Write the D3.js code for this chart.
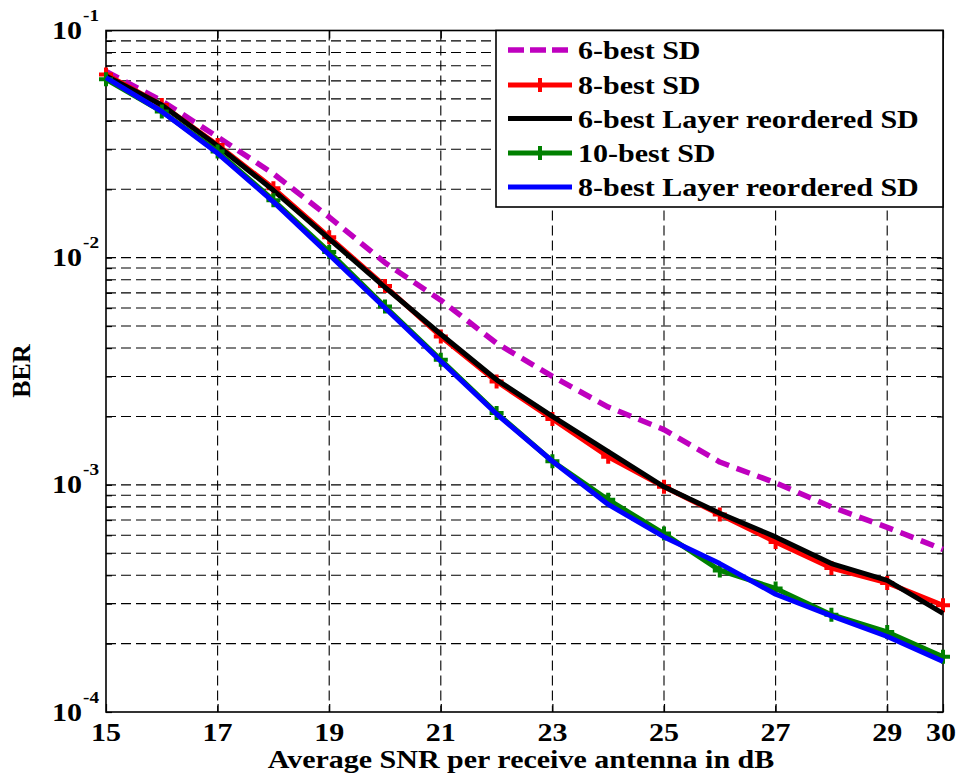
<!DOCTYPE html>
<html>
<head>
<meta charset="utf-8">
<script src="https://cdn.jsdelivr.net/npm/d3@7"></script>
<style>
  body { margin: 0; background: #fff; }
  svg { display: block; }
  text { font-family: "Liberation Serif", "Times New Roman", serif; font-weight: bold; fill: #000; }
</style>
</head>
<body>
<div class="canvas"></div>
<script>
// data
const snr = [15, 16, 17, 18, 19, 20, 21, 22, 23, 24, 25, 26, 27, 28, 29, 30];
const best6 = [0.066, 0.049, 0.034, 0.0234, 0.0151, 0.0095, 0.0065, 0.0042, 0.0030, 0.0022, 0.00175, 0.00126, 0.00102, 0.0008, 0.00065, 0.00052];
const best8 = [0.064, 0.047, 0.0313, 0.0202, 0.0123, 0.0075, 0.0045, 0.00285, 0.00195, 0.00133, 0.00098, 0.00074, 0.00056, 0.00043, 0.00037, 0.000295];
const best6Layer = [0.063, 0.047, 0.031, 0.0198, 0.0121, 0.0074, 0.0046, 0.0029, 0.0020, 0.0014, 0.00098, 0.00075, 0.00059, 0.00045, 0.00038, 0.000272];
const best10 = [0.061, 0.044, 0.0293, 0.0179, 0.0106, 0.0061, 0.00355, 0.00207, 0.00127, 0.00086, 0.00061, 0.00042, 0.00035, 0.000268, 0.000225, 0.000175];
const best8Layer = [0.062, 0.044, 0.0288, 0.0176, 0.0103, 0.0060, 0.0035, 0.00205, 0.00127, 0.00082, 0.00059, 0.00045, 0.00033, 0.000265, 0.000215, 0.000167];

const seriesNames = ['6-best SD', '8-best SD', '6-best Layer reordered SD', '10-best SD', '8-best Layer reordered SD'];
const seriesColors = ['#bf00bf', '#ff0000', '#000000', '#008000', '#0000ff'];
const xTicks = [15, 17, 19, 21, 23, 25, 27, 29, 30];
const yDecades = [-4, -3, -2, -1];

const series = [
    { name: seriesNames[0], values: best6, color: seriesColors[0], dash: '14,8', marker: false },
    { name: seriesNames[1], values: best8, color: seriesColors[1], dash: null, marker: true },
    { name: seriesNames[2], values: best6Layer, color: seriesColors[2], dash: null, marker: false },
    { name: seriesNames[3], values: best10, color: seriesColors[3], dash: null, marker: true },
    { name: seriesNames[4], values: best8Layer, color: seriesColors[4], dash: null, marker: false }
];

const W = 961, H = 777;
const plot = { left: 106, top: 30.5, right: 943, bottom: 712 };
const sx = 1.2; // horizontal stretch of the glyphs in the source image

const svg = d3.select('.canvas').append('svg')
    .attr('width', W)
    .attr('height', H);

svg.append('rect').attr('width', W).attr('height', H).attr('fill', '#fff');

const x = d3.scaleLinear().domain([15, 30]).range([plot.left, plot.right]);
const y = d3.scaleLog().domain([1e-4, 1e-1]).range([plot.bottom, plot.top]);

// grid
const grid = svg.append('g')
    .attr('stroke', '#000')
    .attr('stroke-width', 1.1)
    .attr('stroke-dasharray', '10,5');

grid.selectAll('.vg').data(xTicks.slice(1, -1)).enter().append('line')
    .attr('x1', d => x(d)).attr('x2', d => x(d))
    .attr('y1', plot.top).attr('y2', plot.bottom);

grid.selectAll('.hg').data(y.ticks().filter(d => d > 1.01e-4 && d < 0.099)).enter().append('line')
    .attr('x1', plot.left).attr('x2', plot.right)
    .attr('y1', d => y(d)).attr('y2', d => y(d));

// axes with inward ticks
const axisStyle = g => {
    g.select('.domain').remove();
    g.selectAll('.tick line').attr('stroke', '#000').attr('stroke-width', 1.2);
    g.selectAll('.tick text').remove();
};
svg.append('g').attr('transform', `translate(0,${plot.bottom})`)
    .call(d3.axisBottom(x).tickValues(xTicks).tickSize(-8)).call(axisStyle);
svg.append('g').attr('transform', `translate(0,${plot.top})`)
    .call(d3.axisTop(x).tickValues(xTicks).tickSize(-8)).call(axisStyle);
svg.append('g').attr('transform', `translate(${plot.left},0)`)
    .call(d3.axisLeft(y).tickValues(y.ticks()).tickSize(-6)).call(axisStyle);
svg.append('g').attr('transform', `translate(${plot.right},0)`)
    .call(d3.axisRight(y).tickValues(y.ticks()).tickSize(-6)).call(axisStyle);

svg.append('rect')
    .attr('x', plot.left).attr('y', plot.top)
    .attr('width', plot.right - plot.left).attr('height', plot.bottom - plot.top)
    .attr('fill', 'none').attr('stroke', '#000').attr('stroke-width', 1.6);

// stretched text helper
const label = (px, py, str, size, anchor) => svg.append('text')
    .attr('transform', `translate(${px},${py}) scale(${sx},1)`)
    .attr('font-size', size)
    .attr('text-anchor', anchor || 'start')
    .text(str);

// tick labels
xTicks.forEach(t => label(t === 30 ? x(t) - 2 : x(t), 741, t, 25, 'middle'));
yDecades.forEach(e => {
    const py = y(Math.pow(10, e));
    label(82, py + 8.5, '10', 25, 'end');
    label(83, py - 9.5, '-' + Math.abs(e), 16, 'start');
});

// axis titles
label(521, 768, 'Average SNR per receive antenna in dB', 25, 'middle');
svg.append('text')
    .attr('transform', 'translate(30,371) rotate(-90)')
    .attr('font-size', 26)
    .attr('text-anchor', 'middle')
    .text('BER');

// curves
const line = d3.line()
    .x((d, i) => x(snr[i]))
    .y(d => y(d));

const plus = (g, cx, cy, color) => {
    g.append('path')
        .attr('d', `M${cx - 7},${cy}H${cx + 7}M${cx},${cy - 7}V${cy + 7}`)
        .attr('stroke', color).attr('stroke-width', 4).attr('fill', 'none');
};

series.forEach(s => {
    const g = svg.append('g');
    g.append('path')
        .attr('d', line(s.values))
        .attr('fill', 'none')
        .attr('stroke', s.color)
        .attr('stroke-width', s.dash ? 5.5 : 5)
        .attr('stroke-linejoin', 'round')
        .attr('stroke-dasharray', s.dash);
    if (s.marker) s.values.forEach((v, i) => plus(g, x(snr[i]), y(v), s.color));
});

// legend
const lg = svg.append('g');
lg.append('rect')
    .attr('x', 496).attr('y', plot.top)
    .attr('width', plot.right - 496).attr('height', 207 - plot.top)
    .attr('fill', '#fff').attr('stroke', '#000').attr('stroke-width', 1.6);
const rowY = [50, 85, 118.5, 153, 187];
series.forEach((s, i) => {
    lg.append('line')
        .attr('x1', 508).attr('x2', 572)
        .attr('y1', rowY[i]).attr('y2', rowY[i])
        .attr('stroke', s.color).attr('stroke-width', s.dash ? 5.5 : 5)
        .attr('stroke-dasharray', s.dash ? '16,6' : null);
    if (s.marker) plus(lg, 540, rowY[i], s.color);
    label(578, rowY[i] + 9, s.name, 25, 'start');
});
</script>
</body>
</html>
